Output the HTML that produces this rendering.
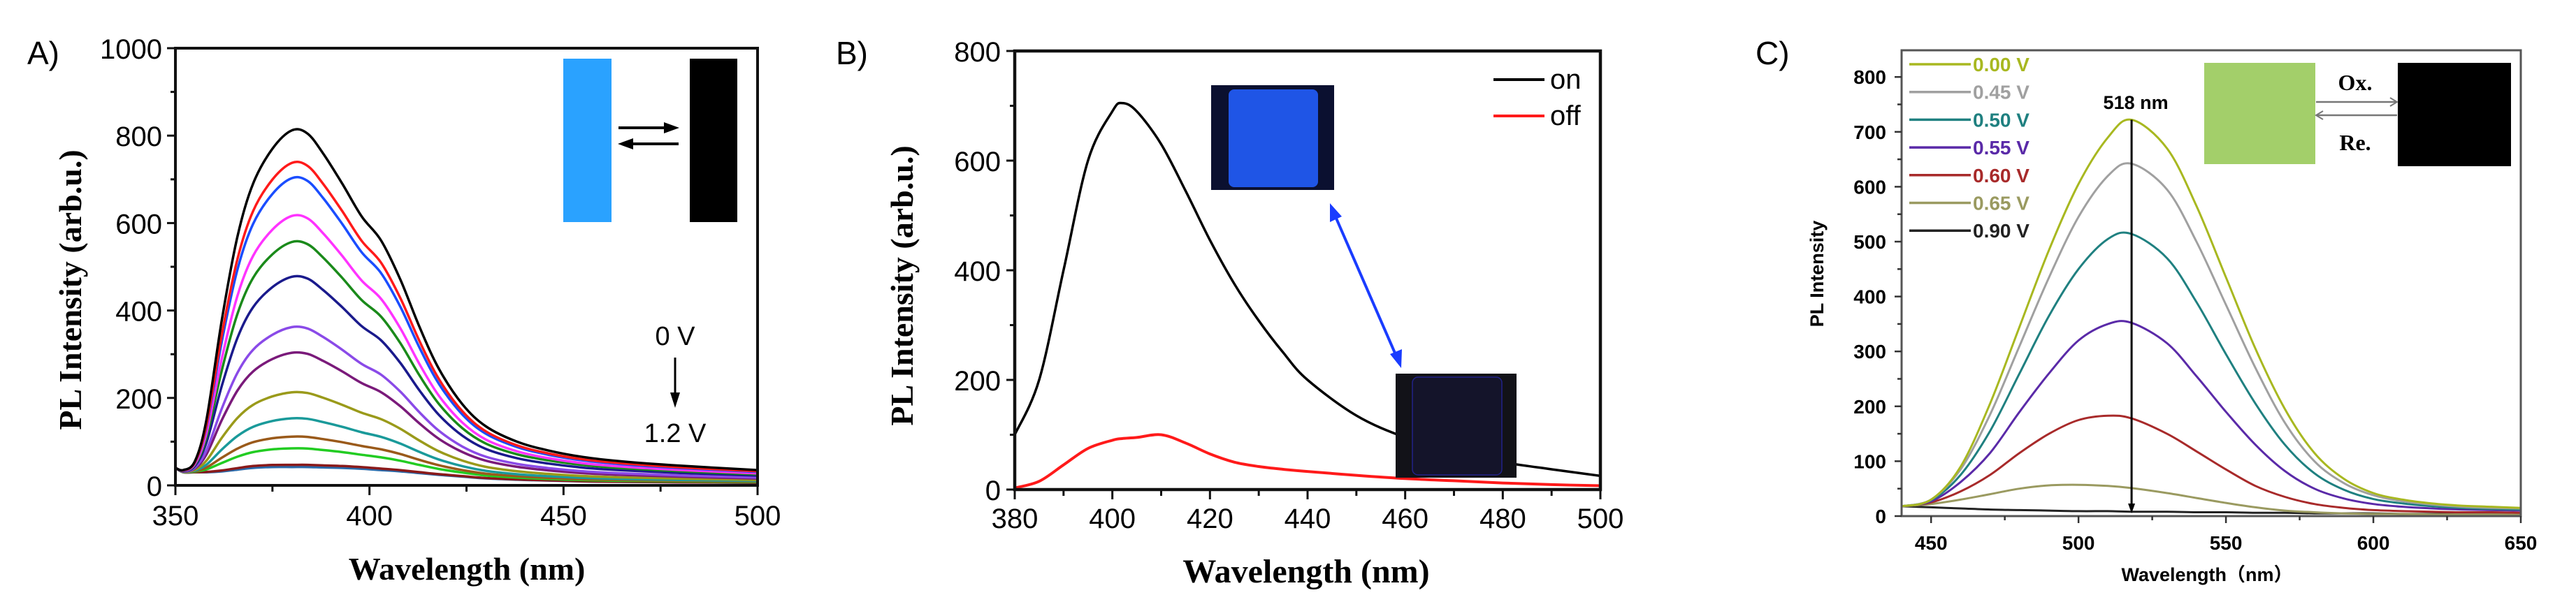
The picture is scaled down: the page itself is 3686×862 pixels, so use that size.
<!DOCTYPE html>
<html><head><meta charset="utf-8"><style>
html,body{margin:0;padding:0;background:#fff;}
svg{display:block;}
</style></head><body>
<svg id="fig" width="3686" height="862" viewBox="0 0 3686 862" xmlns="http://www.w3.org/2000/svg">
<rect width="3686" height="862" fill="#fff"/>
<g id="pa"></g>
<g id="pb"></g>
<g id="pc"></g>
</svg>
<script>
// ---------- Panel A data ----------
const aWavelengths = [350,352,355,358,362,366,370,375,380,384,388,393,398,403,408,413,418,424,430,438,446,455,465,480,500];
const aProfileTop = [40,35,55,150,380,570,690,770,812,805,760,690,615,560,470,360,265,185,135,100,80,65,55,45,35];
const aProfileFloor = [40,30,30,30,32,36,40,42,42,42,41,40,38,35,32,28,24,20,16,13,11,9,8,7,6];
const aPeaks = [815,740,705,618,558,478,362,303,212,152,110,83,45,40];
const aColors = ['#000000','#ff1a1a','#1a4dff','#ff33ff','#1a8a1a','#1a1a8c','#8a4ae8','#7a1a7a','#9a9a1a','#1a9a9a','#9a5a1a','#22cc22','#8a1a1a','#2a6aaa'];
const aXTicks = [350,400,450,500];
const aYTicks = [0,200,400,600,800,1000];

// ---------- Panel B data ----------
const bWavelengths = [380,385,390,395,400,402,405,410,415,420,425,430,435,440,450,460,470,480,490,500];
const bOn = [100,200,400,600,690,705,690,630,545,455,375,308,250,200,135,95,68,50,37,25];
const bOff = [3,15,45,75,90,93,95,100,85,65,50,42,37,33,26,20,16,12,9,7];
const bXTicks = [380,400,420,440,460,480,500];
const bYTicks = [0,200,400,600,800];

// ---------- Panel C data ----------
const cWavelengths = [440,450,460,470,480,490,500,510,518,530,540,550,560,570,580,590,600,610,620,630,640,650];
const c000 = [18,30,90,205,345,485,605,690,722,670,565,435,305,195,115,68,42,30,23,19,17,15];
const c045 = [18,30,85,185,310,435,545,620,642,595,500,385,270,170,100,60,38,27,21,17,15,14];
const c050 = [18,29,75,155,260,365,450,505,514,470,390,295,205,130,78,48,31,23,18,15,13,12];
const c055 = [18,27,62,115,190,260,320,350,352,315,255,190,130,82,50,32,22,17,14,12,11,10];
const c060 = [18,25,45,75,115,150,175,183,178,150,118,85,55,35,22,15,11,9,8,7,7,6];
const c065 = [18,22,30,40,50,56,57,55,51,42,33,24,16,10,7,5,4,4,3,3,3,3];
const c090 = [18,16,14,12,11,10,9,9,8,8,7,7,6,6,5,5,5,4,4,4,4,4];
const cLabels = ['0.00 V','0.45 V','0.50 V','0.55 V','0.60 V','0.65 V','0.90 V'];
const cColors = ['#a8b820','#a0a0a0','#1f8080','#5a2aa8','#a82a2a','#9a9a60','#222222'];
const cXTicks = [450,500,550,600,650];
const cYTicks = [0,100,200,300,400,500,600,700,800];

const NS='http://www.w3.org/2000/svg';
function mk(parent,tag,attrs,text){const e=document.createElementNS(NS,tag);for(const k in attrs)e.setAttribute(k,attrs[k]);if(text!==undefined)e.textContent=text;parent.appendChild(e);return e;}
function smooth(pts){let d='M'+pts[0][0].toFixed(1)+','+pts[0][1].toFixed(1);
 for(let i=0;i<pts.length-1;i++){const p0=pts[i-1]||pts[i],p1=pts[i],p2=pts[i+1],p3=pts[i+2]||p2;
  const c1=[p1[0]+(p2[0]-p0[0])/6,p1[1]+(p2[1]-p0[1])/6],c2=[p2[0]-(p3[0]-p1[0])/6,p2[1]-(p3[1]-p1[1])/6];
  d+='C'+c1[0].toFixed(1)+','+c1[1].toFixed(1)+' '+c2[0].toFixed(1)+','+c2[1].toFixed(1)+' '+p2[0].toFixed(1)+','+p2[1].toFixed(1);}
 return d;}

// ===== Panel A =====
(function(){
const g=document.getElementById('pa');
const L=251,R=1084,T=69,B=695;
const x=v=>L+(v-350)/150*(R-L), y=v=>B-v/1000*(B-T);
let t=mk(g,'text',{x:39,y:92,'font-family':'Liberation Sans, sans-serif','font-size':46},'A)');

const series=mk(g,'g',{});

for(let k=aPeaks.length-1;k>=0;k--){
 const f=(aPeaks[k]-40)/(815-40);
 const pts=aWavelengths.map((w,i)=>[x(w),y(aProfileFloor[i]+f*(aProfileTop[i]-aProfileFloor[i]))]);
 const p=mk(series,'path',{d:smooth(pts),fill:'none',stroke:aColors[k],'stroke-width':3.5});
 
 
}
const ax=mk(g,'rect',{x:L,y:T,width:R-L,height:B-T,fill:'none',stroke:'#111','stroke-width':4});

aXTicks.forEach(v=>{mk(g,'line',{x1:x(v),x2:x(v),y1:B,y2:B+14,stroke:'#111','stroke-width':3});
 const tl=mk(g,'text',{x:x(v),y:752,'text-anchor':'middle','font-family':'Liberation Sans, sans-serif','font-size':40},String(v));
 });
[375,425,475].forEach(v=>mk(g,'line',{x1:x(v),x2:x(v),y1:B,y2:B+9,stroke:'#111','stroke-width':3}));
aYTicks.forEach(v=>{mk(g,'line',{x1:L,x2:L-12,y1:y(v),y2:y(v),stroke:'#111','stroke-width':3});
 const tl=mk(g,'text',{x:232,y:y(v)+15,'text-anchor':'end','font-family':'Liberation Sans, sans-serif','font-size':40},String(v));
 });
[100,300,500,700,900].forEach(v=>mk(g,'line',{x1:L,x2:L-7,y1:y(v),y2:y(v),stroke:'#111','stroke-width':3}));
t=mk(g,'text',{x:668,y:830,'text-anchor':'middle','font-family':'Liberation Serif, serif','font-weight':'bold','font-size':46},'Wavelength (nm)');

t=mk(g,'text',{x:0,y:0,transform:'translate(116,415) rotate(-90)','text-anchor':'middle','font-family':'Liberation Serif, serif','font-weight':'bold','font-size':46},'PL Intensity (arb.u.)');

let r=mk(g,'rect',{x:806,y:84,width:69,height:234,fill:'#2aa2ff'});

r=mk(g,'rect',{x:987,y:84,width:68,height:234,fill:'#000'});

mk(g,'line',{x1:885,y1:183,x2:960,y2:183,stroke:'#000','stroke-width':4});
mk(g,'polygon',{points:'972,183 950,175 950,191',fill:'#000'});
mk(g,'line',{x1:896,y1:206,x2:971,y2:206,stroke:'#000','stroke-width':4});
mk(g,'polygon',{points:'884,206 906,198 906,214',fill:'#000'});
t=mk(g,'text',{x:966,y:494,'text-anchor':'middle','font-family':'Liberation Sans, sans-serif','font-size':38},'0 V');

mk(g,'line',{x1:966,y1:512,x2:966,y2:570,stroke:'#000','stroke-width':3});
mk(g,'polygon',{points:'966,584 959,562 973,562',fill:'#000'});
t=mk(g,'text',{x:966,y:633,'text-anchor':'middle','font-family':'Liberation Sans, sans-serif','font-size':38},'1.2 V');

})();

// ===== Panel B =====
(function(){
const g=document.getElementById('pb');
const L=1452,R=2290,T=73,B=701;
const x=v=>L+(v-380)/120*(R-L), y=v=>B-v/800*(B-T);
let t=mk(g,'text',{x:1196,y:92,'font-family':'Liberation Sans, sans-serif','font-size':46},'B)');

let p=mk(g,'path',{d:smooth(bWavelengths.map((w,i)=>[x(w),y(bOff[i])])),fill:'none',stroke:'#ff1a1a','stroke-width':4});

p=mk(g,'path',{d:smooth(bWavelengths.map((w,i)=>[x(w),y(bOn[i])])),fill:'none',stroke:'#000','stroke-width':3.5});

let r=mk(g,'rect',{x:1733,y:122,width:176,height:150,fill:'#0b1030'});

mk(g,'rect',{x:1758,y:128,width:128,height:140,rx:8,fill:'#1f55e6'});
r=mk(g,'rect',{x:1997,y:535,width:173,height:149,fill:'#121218'});

mk(g,'rect',{x:2021,y:540,width:128,height:140,rx:8,fill:'#14142a',stroke:'#22228a','stroke-width':1.5});
mk(g,'line',{x1:1910,y1:308,x2:1998,y2:510,stroke:'#1a3cff','stroke-width':4});
mk(g,'polygon',{points:'1903,291 1903,318 1920,310',fill:'#1a3cff'});
mk(g,'polygon',{points:'2005,527 2006,500 1989,507',fill:'#1a3cff'});
const ax=mk(g,'rect',{x:L,y:T,width:R-L,height:B-T,fill:'none',stroke:'#111','stroke-width':4.5});

bXTicks.forEach(v=>{mk(g,'line',{x1:x(v),x2:x(v),y1:B,y2:B+14,stroke:'#111','stroke-width':3});
 const tl=mk(g,'text',{x:x(v),y:756,'text-anchor':'middle','font-family':'Liberation Sans, sans-serif','font-size':40},String(v));
 });
[390,410,430,450,470,490].forEach(v=>mk(g,'line',{x1:x(v),x2:x(v),y1:B,y2:B+9,stroke:'#111','stroke-width':3}));
bYTicks.forEach(v=>{mk(g,'line',{x1:L,x2:L-12,y1:y(v),y2:y(v),stroke:'#111','stroke-width':3});
 const tl=mk(g,'text',{x:1432,y:y(v)+15,'text-anchor':'end','font-family':'Liberation Sans, sans-serif','font-size':40},String(v));
 });
[100,300,500,700].forEach(v=>mk(g,'line',{x1:L,x2:L-7,y1:y(v),y2:y(v),stroke:'#111','stroke-width':3}));
t=mk(g,'text',{x:1869,y:834,'text-anchor':'middle','font-family':'Liberation Serif, serif','font-weight':'bold','font-size':48},'Wavelength (nm)');

t=mk(g,'text',{x:0,y:0,transform:'translate(1306,409) rotate(-90)','text-anchor':'middle','font-family':'Liberation Serif, serif','font-weight':'bold','font-size':46},'PL Intensity (arb.u.)');

const lg=mk(g,'g',{});
mk(lg,'line',{x1:2137,x2:2210,y1:114,y2:114,stroke:'#000','stroke-width':4});
t=mk(lg,'text',{x:2218,y:127,'font-family':'Liberation Sans, sans-serif','font-size':40},'on');

mk(lg,'line',{x1:2137,x2:2210,y1:166,y2:166,stroke:'#ff1a1a','stroke-width':4});
t=mk(lg,'text',{x:2218,y:179,'font-family':'Liberation Sans, sans-serif','font-size':40},'off');

})();

// ===== Panel C =====
(function(){
const g=document.getElementById('pc');
const L=2721,R=3607,T=72,B=739;
const x=v=>L+(v-440)/210*(R-L), y=v=>B-v*0.786;
let t=mk(g,'text',{x:2512,y:92,'font-family':'Liberation Sans, sans-serif','font-size':46},'C)');

const cSeries=[c000,c045,c050,c055,c060,c065,c090];
for(let k=cSeries.length-1;k>=0;k--){
 const p=mk(g,'path',{d:smooth(cWavelengths.map((w,i)=>[x(w),y(cSeries[k][i])])),fill:'none',stroke:cColors[k],'stroke-width':3});
 
 
}
mk(g,'line',{x1:x(518),x2:x(518),y1:y(722),y2:B-10,stroke:'#000','stroke-width':3});
mk(g,'polygon',{points:(x(518))+','+(B-4)+' '+(x(518)-5)+','+(B-18)+' '+(x(518)+5)+','+(B-18),fill:'#000'});
t=mk(g,'text',{x:x(518)+6,y:156,'text-anchor':'middle','font-family':'Liberation Sans, sans-serif','font-weight':'bold','font-size':27},'518 nm');

const ax=mk(g,'rect',{x:L,y:T,width:R-L,height:B-T,fill:'none',stroke:'#555','stroke-width':3});

cXTicks.forEach(v=>{mk(g,'line',{x1:x(v),x2:x(v),y1:B,y2:B+10,stroke:'#333','stroke-width':2.5});
 const tl=mk(g,'text',{x:x(v),y:787,'text-anchor':'middle','font-family':'Liberation Sans, sans-serif','font-weight':'bold','font-size':28},String(v));
 });
[475,525,575,625].forEach(v=>mk(g,'line',{x1:x(v),x2:x(v),y1:B,y2:B+6,stroke:'#333','stroke-width':2.5}));
cYTicks.forEach(v=>{mk(g,'line',{x1:L,x2:L-10,y1:y(v),y2:y(v),stroke:'#333','stroke-width':2.5});
 const tl=mk(g,'text',{x:2699,y:y(v)+10,'text-anchor':'end','font-family':'Liberation Sans, sans-serif','font-weight':'bold','font-size':28},String(v));
 });
[50,150,250,350,450,550,650,750].forEach(v=>mk(g,'line',{x1:L,x2:L-6,y1:y(v),y2:y(v),stroke:'#333','stroke-width':2.5}));
t=mk(g,'text',{x:3158,y:832,'text-anchor':'middle','font-family':'Liberation Sans, Noto Sans CJK SC, sans-serif','font-weight':'bold','font-size':27},'Wavelength（nm）');

t=mk(g,'text',{x:0,y:0,transform:'translate(2609,392) rotate(-90)','text-anchor':'middle','font-family':'Liberation Sans, sans-serif','font-weight':'bold','font-size':27},'PL Intensity');

const lg=mk(g,'g',{});
cLabels.forEach((lab,k)=>{const yy=92+k*39.7;
 mk(lg,'line',{x1:2732,x2:2820,y1:yy,y2:yy,stroke:cColors[k],'stroke-width':3.5});
 const tl=mk(lg,'text',{x:2823,y:yy+10,'font-family':'Liberation Sans, sans-serif','font-weight':'bold','font-size':28,fill:cColors[k]},lab);
 });
let r=mk(g,'rect',{x:3154,y:90,width:159,height:145,fill:'#a3cf6a'});

r=mk(g,'rect',{x:3431,y:90,width:162,height:148,fill:'#000'});

mk(g,'line',{x1:3314,x2:3430,y1:146,y2:146,stroke:'#777','stroke-width':2.5});
mk(g,'polyline',{points:'3420,140 3430,146 3420,152',fill:'none',stroke:'#777','stroke-width':2});
mk(g,'line',{x1:3314,x2:3430,y1:165,y2:165,stroke:'#777','stroke-width':2.5});
mk(g,'polyline',{points:'3324,159 3314,165 3324,171',fill:'none',stroke:'#777','stroke-width':2});
t=mk(g,'text',{x:3370,y:129,'text-anchor':'middle','font-family':'Liberation Serif, serif','font-weight':'bold','font-size':32},'Ox.');

t=mk(g,'text',{x:3370,y:215,'text-anchor':'middle','font-family':'Liberation Serif, serif','font-weight':'bold','font-size':32},'Re.');

})();
</script>
</body></html>
